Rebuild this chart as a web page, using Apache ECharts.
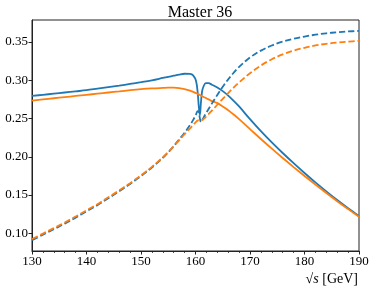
<!DOCTYPE html>
<html>
<head>
<meta charset="utf-8">
<script src="https://cdn.jsdelivr.net/npm/echarts@6.0.0/dist/echarts.min.js"></script>
<style>
html,body{margin:0;padding:0;background:#fff;}
#chart{width:374px;height:290px;}
</style>
</head>
<body>
<div id="chart"></div>
<script>
// ---- data ----
const titleText = 'Master 36';
const xTicks = [130, 140, 150, 160, 170, 180, 190];
const yTicks = [0.10, 0.15, 0.20, 0.25, 0.30, 0.35];

const sqrtS = [130,132,134,136,138,140,142,144,146,148,150,152,154,155,156,157,158,159,
  159.6,160.1,160.4,160.6,160.8,161.0,161.2,161.5,161.9,162.4,
  163,164,165,166,167,168,170,172,174,176,178,180,182,184,186,188,190];

const blueSolid = [0.2795,0.281,0.2825,0.284,0.2855,0.287,0.289,0.291,0.293,0.2952,0.2975,0.300,0.303,0.3045,0.306,0.3075,0.3085,0.3083,
  0.306,0.299,0.284,0.266,0.2545,0.271,0.285,0.2925,0.2963,0.2962,
  0.2942,0.2905,0.2858,0.2800,0.2732,0.2658,0.2492,0.2335,0.2188,0.2049,0.1916,0.1788,0.1665,0.1548,0.1435,0.1328,0.1225];

const orangeSolid = [0.2735,0.275,0.2765,0.278,0.2795,0.281,0.2825,0.284,0.2855,0.287,0.2883,0.2893,0.290,0.2903,0.2903,0.2898,0.2885,0.2865,
  0.2848,0.2832,0.2822,0.2815,0.2808,0.280,0.2793,0.2782,0.2768,0.275,
  0.2728,0.2702,0.2658,0.2608,0.2552,0.2492,0.2362,0.2232,0.2106,0.1984,0.1865,0.1749,0.1636,0.1526,0.1419,0.1316,0.1215];

const blueDashed = [0.091,0.098,0.1052,0.1126,0.1204,0.1286,0.1368,0.1457,0.155,0.1645,0.1748,0.186,0.1985,0.2058,0.214,0.2225,0.2315,0.2415,
  0.2485,0.2555,0.2595,0.2585,0.2505,0.2455,0.247,0.2515,0.2565,0.2625,
  0.2695,0.2808,0.2915,0.3012,0.3098,0.3175,0.3298,0.3388,0.3455,0.3505,0.3543,0.3572,0.3596,0.3614,0.3628,0.3638,0.3645];

const orangeDashed = [0.0925,0.0995,0.1067,0.114,0.1218,0.130,0.138,0.147,0.156,0.1655,0.1757,0.1868,0.1992,0.2062,0.2138,0.2215,0.2295,0.2372,
  0.2418,0.2455,0.2473,0.2478,0.2474,0.2472,0.2478,0.2495,0.2522,0.2557,
  0.2602,0.2680,0.2757,0.2833,0.2905,0.2972,0.3092,0.3193,0.3275,0.3338,0.3387,0.3425,0.3455,0.3477,0.3493,0.3505,0.3515];

// ---- chart ----
const BLUE = '#1f77b4', ORANGE = '#ff7f0e';
const FONT = 'Liberation Serif';
function pairs(ys){ return sqrtS.map((x,i)=>[x, ys[i]]); }
function line(name, ys, color, dashed){
  return {
    name, type:'line', data: pairs(ys), showSymbol:false, symbol:'none',
    smooth:0.35,
    lineStyle:{color, width:1.8, type: dashed ? [6.3,2.8] : 'solid'},
    itemStyle:{color}, z: 2
  };
}

const chart = echarts.init(document.getElementById('chart'), null, {renderer:'canvas'});
chart.setOption({
  animation:false,
  backgroundColor:'#fff',
  title:{
    text:titleText, left:195, top:0, textAlign:'center',
    textStyle:{fontFamily:FONT, fontSize:16, fontWeight:'normal', color:'#000'}
  },
  grid:{left:32, right:15, top:20, bottom:39, show:true, borderColor:'#222', borderWidth:1, backgroundColor:'transparent'},
  xAxis:{
    type:'value', min:130, max:190, interval:10,
    axisLine:{show:true, onZero:false, lineStyle:{color:'#222', width:1}},
    axisTick:{show:true, inside:false, length:3.5, lineStyle:{color:'#222', width:1}},
    minorTick:{show:true, splitNumber:5, length:2, lineStyle:{color:'#222', width:0.8}},
    splitLine:{show:false},
    axisLabel:{fontFamily:FONT, fontSize:13, color:'#000', margin:4,
      customValues:xTicks, formatter:v=>String(v)}
  },
  yAxis:{
    type:'value', min:0.0768, max:0.3788,
    axisLine:{show:true, onZero:false, lineStyle:{color:'#222', width:1}},
    axisTick:{show:true, inside:false, length:3.5, customValues:yTicks, lineStyle:{color:'#222', width:1}},
    splitLine:{show:false},
    axisLabel:{fontFamily:FONT, fontSize:13, color:'#000', margin:4,
      customValues:yTicks, formatter:v=>v.toFixed(2)}
  },
  graphic:[{
    type:'text', right:16, bottom:4,
    style:{
      text:'{r|√}{s|s} {r|[GeV]}',
      rich:{
        r:{fontFamily:FONT, fontSize:14, fill:'#000'},
        s:{fontFamily:FONT, fontSize:14, fontStyle:'italic', fill:'#000'}
      },
      fill:'#000', font:'14px "Liberation Serif"'
    }
  }],
  series:[
    line('blue solid', blueSolid, BLUE, false),
    line('orange solid', orangeSolid, ORANGE, false),
    line('blue dashed', blueDashed, BLUE, true),
    line('orange dashed', orangeDashed, ORANGE, true)
  ]
});
</script>
</body>
</html>
